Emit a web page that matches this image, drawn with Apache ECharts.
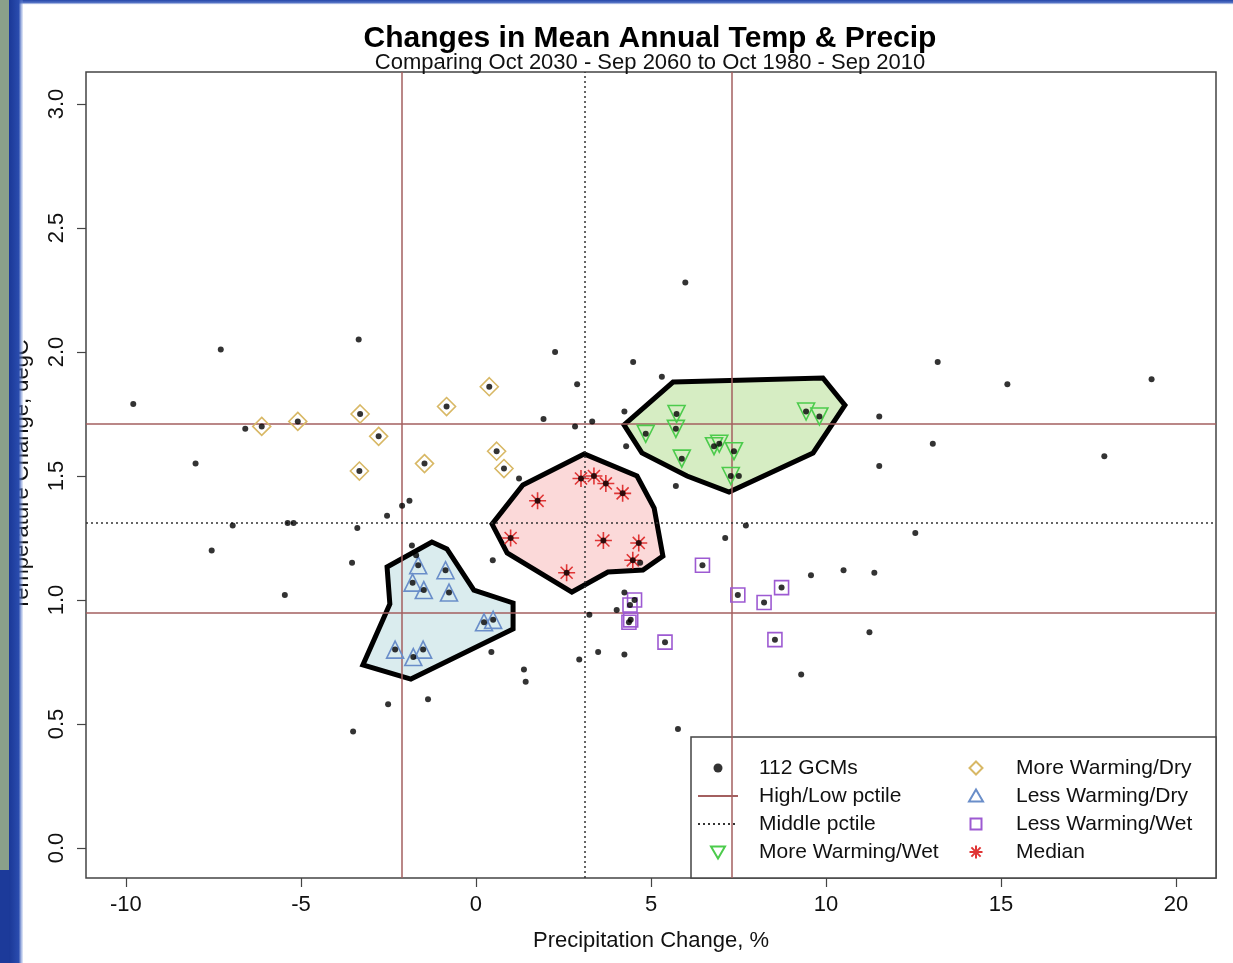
<!DOCTYPE html>
<html>
<head>
<meta charset="utf-8">
<title>Changes in Mean Annual Temp & Precip</title>
<script src="https://cdn.jsdelivr.net/npm/echarts/dist/echarts.min.js"></script>
<style>
  html, body { margin: 0; padding: 0; background: #fff; }
  #chart { width: 1233px; height: 963px; }
</style>
</head>
<body>
<div id="chart"></div>
<script>
// Scatter of GCM projections: precip change (%) vs temp change (degC).
var FONT = 'Liberation Sans, Arial, sans-serif';

var xTicks = [-10, -5, 0, 5, 10, 15, 20];
var yTicks = [0, 0.5, 1, 1.5, 2, 2.5, 3];

// percentile lines
var hiLoX = [-2.13, 7.31];
var hiLoY = [0.948, 1.705];
var midX = [3.12];
var midY = [1.308];

// GCMs not in any highlighted group
var gcmOther = [
    [-7.29, 2.01], [-3.35, 2.05], [-9.79, 1.79], [-6.59, 1.69], [-8.01, 1.55],
    [-1.90, 1.40], [-2.11, 1.38], [-2.54, 1.34], [-5.38, 1.31], [-5.21, 1.31],
    [-6.95, 1.30], [-3.39, 1.29], [-7.55, 1.20], [-1.83, 1.22], [-3.54, 1.15],
    [0.48, 1.16], [-5.46, 1.02], [0.44, 0.79], [-2.51, 0.58], [-1.37, 0.60],
    [-3.51, 0.47], [-1.71, 1.18], [1.37, 0.72], [1.42, 0.67], [4.69, 1.15],
    [1.23, 1.49], [5.98, 2.28], [2.26, 2.00], [4.49, 1.96], [5.31, 1.90],
    [2.89, 1.87], [4.24, 1.76], [1.93, 1.73], [2.83, 1.70], [3.32, 1.72],
    [4.29, 1.62], [11.52, 1.74], [11.52, 1.54], [5.71, 1.46], [7.71, 1.30],
    [7.12, 1.25], [10.50, 1.12], [13.19, 1.96], [15.18, 1.87], [19.30, 1.89],
    [13.05, 1.63], [17.95, 1.58], [12.55, 1.27], [4.24, 1.03], [4.02, 0.96],
    [3.24, 0.94], [9.57, 1.10], [11.38, 1.11], [11.24, 0.87], [9.29, 0.70],
    [3.49, 0.79], [4.24, 0.78], [2.95, 0.76], [5.77, 0.48], [7.51, 1.50]
];

var moreWarmDry = [
    [-6.12, 1.70], [-5.09, 1.72], [-3.31, 1.75], [-2.78, 1.66], [-0.84, 1.78],
    [0.38, 1.86], [-1.47, 1.55], [-3.33, 1.52], [0.59, 1.60], [0.80, 1.53]
];
var lessWarmDry = [
    [-1.65, 1.14], [-0.87, 1.12], [-1.81, 1.07], [-1.49, 1.04], [-0.77, 1.03],
    [0.23, 0.91], [0.49, 0.92], [-2.31, 0.80], [-1.79, 0.77], [-1.51, 0.80]
];
var medianSet = [
    [3.00, 1.49], [3.37, 1.50], [3.71, 1.47], [4.19, 1.43], [1.76, 1.40],
    [0.99, 1.25], [3.64, 1.24], [4.65, 1.23], [4.48, 1.16], [2.59, 1.11]
];
var lessWarmWet = [
    [6.47, 1.14], [7.48, 1.02], [8.23, 0.99], [8.73, 1.05], [8.54, 0.84],
    [5.40, 0.83], [4.53, 1.00], [4.40, 0.98], [4.42, 0.92], [4.37, 0.91]
];
var moreWarmWet = [
    [5.73, 1.75], [5.71, 1.69], [4.85, 1.67], [6.80, 1.62], [6.95, 1.63],
    [7.37, 1.60], [5.88, 1.57], [7.28, 1.50], [9.43, 1.76], [9.81, 1.74]
];

// outlines drawn round each group
var hullLessDry = [
    [-1.26, 1.234], [-0.83, 1.206], [-0.06, 1.040], [1.06, 0.988], [1.06, 0.883],
    [-1.86, 0.681], [-3.23, 0.738], [-2.46, 0.984], [-2.54, 1.133]
];
var hullMedian = [
    [3.09, 1.589], [4.60, 1.500], [5.09, 1.371], [5.34, 1.177], [4.77, 1.121],
    [3.77, 1.113], [2.74, 1.032], [0.89, 1.190], [0.46, 1.306], [1.34, 1.464]
];
var hullMoreWet = [
    [5.63, 1.879], [9.91, 1.895], [10.54, 1.786], [9.63, 1.593], [7.23, 1.435],
    [6.03, 1.500], [4.74, 1.593], [4.23, 1.706]
];

var RED = '#a35f5f';
var STAR = 'path://M5,0L5,10M0,5L10,5M1.46,1.46L8.54,8.54M8.54,1.46L1.46,8.54';

// legend icons: the leading moves pin the box to 40x14 so the mark keeps its size
var ICON_DOT = 'path://M0,0M40,14M15.5,7a4.5,4.5 0 1,0 9,0a4.5,4.5 0 1,0 -9,0Z';
var ICON_DOWN = 'path://M0,0M40,14M13,1.5L27,1.5L20,13.5Z';
var ICON_UP = 'path://M0,0M40,14M20,0.5L27,12.5L13,12.5Z';
var ICON_DIAMOND = 'path://M0,0M40,14M20,0.5L26.5,7L20,13.5L13.5,7Z';
var ICON_SQUARE = 'path://M0,0M40,14M14.5,1.5L25.5,1.5L25.5,12.5L14.5,12.5Z';
var ICON_STAR = 'path://M0,0M40,14M20,0.5L20,13.5M13.5,7L26.5,7M15.4,2.4L24.6,11.6M24.6,2.4L15.4,11.6';

function hullSeries(name, pts, fill) {
    return {
        type: 'custom', name: name, data: pts, z: 3, silent: true,
        encode: { x: 0, y: 1 },
        renderItem: function (params, api) {
            if (params.dataIndex !== 0) return null;
            var poly = [];
            for (var i = 0; i < pts.length; i++) poly.push(api.coord(pts[i]));
            return {
                type: 'polygon',
                shape: { points: poly },
                style: { fill: fill, stroke: '#000', lineWidth: 5 }
            };
        }
    };
}

function lineMarks(xs, ys) {
    var out = [];
    for (var i = 0; i < xs.length; i++) out.push({ xAxis: xs[i] });
    for (var j = 0; j < ys.length; j++) out.push({ yAxis: ys[j] });
    return out;
}

function hollow(name, pts, symbol, size, color, rotate) {
    return {
        type: 'scatter', name: name, data: pts, z: 5,
        symbol: symbol, symbolSize: size, symbolRotate: rotate || 0,
        itemStyle: { color: 'transparent', borderColor: color, borderWidth: 1.6, opacity: 1 }
    };
}

var allGcm = gcmOther.concat(moreWarmDry, lessWarmDry, medianSet, lessWarmWet, moreWarmWet);

function legendTextPad(p) {
    return { fontFamily: FONT, fontSize: 21, color: '#111', lineHeight: 28, padding: [0, 0, 0, p] };
}

var chart = echarts.init(document.getElementById('chart'), null, { renderer: 'canvas' });
chart.setOption({
    animation: false,
    backgroundColor: '#fff',
    title: {
        text: 'Changes in Mean Annual Temp & Precip',
        subtext: 'Comparing Oct 2030 - Sep 2060 to Oct 1980 - Sep 2010',
        left: 650, textAlign: 'center', top: 24, padding: 0, itemGap: -2,
        textStyle: { fontFamily: FONT, fontSize: 30, fontWeight: 'bold', color: '#000' },
        subtextStyle: { fontFamily: FONT, fontSize: 22, color: '#111' }
    },
    grid: { left: 86, right: 17, top: 72, bottom: 85, show: true, borderColor: '#444', borderWidth: 1.5, backgroundColor: 'transparent' },
    xAxis: {
        type: 'value', min: -11.14, max: 21.14,
        axisLine: { show: false, onZero: false },
        axisTick: { show: true, length: 9, lineStyle: { color: '#444', width: 1.2 }, customValues: xTicks },
        axisLabel: { customValues: xTicks, fontFamily: FONT, fontSize: 22, color: '#111', margin: 16 },
        splitLine: { show: false },
        name: 'Precipitation Change, %', nameLocation: 'middle', nameGap: 52,
        nameTextStyle: { fontFamily: FONT, fontSize: 22, color: '#111' }
    },
    yAxis: {
        type: 'value', min: -0.121, max: 3.129,
        axisLine: { show: false, onZero: false },
        axisTick: { show: true, length: 9, lineStyle: { color: '#444', width: 1.2 }, customValues: yTicks },
        axisLabel: {
            customValues: yTicks, rotate: 90, fontFamily: FONT, fontSize: 22, color: '#111', margin: 18,
            formatter: function (v) { return v.toFixed(1); }
        },
        splitLine: { show: false },
        name: 'Temperature Change, degC', nameLocation: 'middle', nameGap: 53,
        nameTextStyle: { fontFamily: FONT, fontSize: 22, color: '#111' }
    },
    legend: [
        { orient: 'vertical', left: 697, top: 754, padding: 0, itemGap: 0,
          itemWidth: 40, itemHeight: 14, z: 10, selectedMode: false, textStyle: legendTextPad(16),
          data: [
              { name: '112 GCMs', icon: ICON_DOT },
              { name: 'High/Low pctile', itemStyle: { opacity: 0 } },
              { name: 'Middle pctile', itemStyle: { opacity: 0 } },
              { name: 'More Warming/Wet', icon: ICON_DOWN, symbolRotate: 0 }
          ] },
        { orient: 'vertical', left: 955, top: 754, padding: 0, itemGap: 0,
          itemWidth: 40, itemHeight: 14, z: 10, selectedMode: false, textStyle: legendTextPad(15),
          data: [
              { name: 'More Warming/Dry', icon: ICON_DIAMOND },
              { name: 'Less Warming/Dry', icon: ICON_UP },
              { name: 'Less Warming/Wet', icon: ICON_SQUARE },
              { name: 'Median', icon: ICON_STAR }
          ] }
    ],
    graphic: [
        // legend frame
        { type: 'rect', z: 3, shape: { x: 691, y: 737, width: 525, height: 141 },
          style: { fill: '#fff', stroke: '#444', lineWidth: 1.5 } },
        // slide border round the picture
        { type: 'rect', z: 100, shape: { x: 0, y: 0, width: 1233, height: 5 },
          style: { fill: new echarts.graphic.LinearGradient(0, 0, 0, 1, [
              { offset: 0, color: '#2446a8' }, { offset: 0.6, color: '#5a78c8' }, { offset: 1, color: 'rgba(255,255,255,0)' }]) } },
        { type: 'rect', z: 100, shape: { x: 0, y: 0, width: 9, height: 870 },
          style: { fill: '#8aa08a' } },
        { type: 'rect', z: 100, shape: { x: 0, y: 870, width: 9, height: 93 },
          style: { fill: '#1c3a9a' } },
        { type: 'rect', z: 100, shape: { x: 9, y: 0, width: 14, height: 963 },
          style: { fill: new echarts.graphic.LinearGradient(0, 0, 1, 0, [
              { offset: 0, color: '#1a3897' }, { offset: 0.7, color: '#2a4cae' }, { offset: 1, color: 'rgba(120,150,220,0.2)' }]) } }
    ],
    series: [
        {
            type: 'line', name: 'High/Low pctile', data: [], symbol: 'none', z: 2,
            itemStyle: { color: 'transparent' },
            lineStyle: { color: RED, width: 1.5 },
            markLine: { silent: true, symbol: ['none', 'none'], label: { show: false },
                lineStyle: { color: RED, width: 1.5, type: 'solid' }, data: lineMarks(hiLoX, hiLoY) }
        },
        {
            type: 'line', name: 'Middle pctile', data: [], symbol: 'none', z: 2,
            itemStyle: { color: 'transparent' },
            lineStyle: { color: '#333', width: 1.5, type: [2, 3] },
            markLine: { silent: true, symbol: ['none', 'none'], label: { show: false },
                lineStyle: { color: '#333', width: 1.5, type: [2, 3] }, data: lineMarks(midX, midY) }
        },
        hullSeries('hullLessDry', hullLessDry, 'rgba(182,218,222,0.5)'),
        hullSeries('hullMedian', hullMedian, 'rgba(248,180,180,0.5)'),
        hullSeries('hullMoreWet', hullMoreWet, 'rgba(180,222,145,0.55)'),
        hollow('More Warming/Dry', moreWarmDry, 'diamond', 18, '#d8b865'),
        hollow('Less Warming/Dry', lessWarmDry, 'triangle', 17, '#6a8ec9'),
        hollow('Less Warming/Wet', lessWarmWet, 'rect', 14, '#9d5ad2'),
        hollow('More Warming/Wet', moreWarmWet, 'triangle', 17, '#4ccb4c', 180),
        hollow('Median', medianSet, STAR, 17, '#e03535'),
        {
            type: 'scatter', name: '112 GCMs', data: allGcm, z: 6,
            symbol: 'circle', symbolSize: 6, itemStyle: { color: '#000' }
        }
    ]
});
</script>
</body>
</html>
